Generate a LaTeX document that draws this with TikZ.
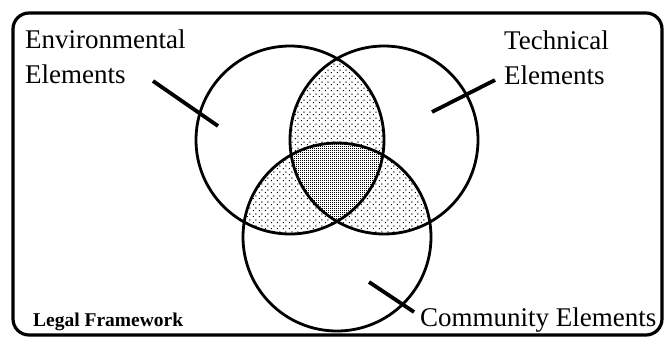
\documentclass[tikz,border=0pt]{standalone}
\usepackage{fontspec}
\setmainfont{Liberation Serif}
\usetikzlibrary{patterns.meta}

\tikzdeclarepattern{
  name=sparsedots, type=uncolored,
  bottom left={(0pt,0pt)}, top right={(6pt,6pt)}, tile size={(6pt,6pt)},
  code={
    \pgfpathrectangle{\pgfpoint{1pt}{1pt}}{\pgfpoint{1.2pt}{1.2pt}}
    \pgfpathrectangle{\pgfpoint{4pt}{4pt}}{\pgfpoint{1.2pt}{1.2pt}}
    \pgfusepath{fill}
  }}
\tikzdeclarepattern{
  name=densedots, type=uncolored,
  bottom left={(0pt,0pt)}, top right={(2pt,2pt)}, tile size={(2pt,2pt)},
  code={
    \pgfpathrectangle{\pgfpoint{0.2pt}{0.2pt}}{\pgfpoint{1.2pt}{1.2pt}}
    \pgfusepath{fill}
  }}

\begin{document}
\begin{tikzpicture}[x=1pt, y=-1pt,
  ring/.style={circle, draw, line width=2.8pt, minimum size=188pt, inner sep=0pt},
  lbl/.style={font=\fontsize{27}{35}\selectfont, align=left, anchor=base west, inner sep=0pt},
  ptr/.style={line width=3.8pt},
  pairfill/.style={pattern=sparsedots},
  triplefill/.style={pattern=densedots}]
\useasboundingbox (0,0) rectangle (665,338);
% frame
\draw[line width=3.2pt, rounded corners=16pt] (13,13) rectangle (662,335);
% overlaps
\begin{scope}
  \clip (290,140) circle[radius=94];
  \fill[pairfill] (384,140) circle[radius=94];
  \fill[pairfill] (337,237) circle[radius=94];
\end{scope}
\begin{scope}
  \clip (384,140) circle[radius=94];
  \fill[pairfill] (337,237) circle[radius=94];
\end{scope}
\begin{scope}
  \clip (290,140) circle[radius=94];
  \clip (384,140) circle[radius=94];
  \fill[white] (337,237) circle[radius=94];
  \fill[triplefill] (337,237) circle[radius=94];
\end{scope}
% circles
\node[ring] (env) at (290,140) {};
\node[ring] (tech) at (384,140) {};
\node[ring] (comm) at (337,237) {};
% labels
\node[lbl] (envtxt) at (25,83) {Environmental\\Elements};
\node[lbl] (techtxt) at (504,84) {Technical\\Elements};
\node[lbl] (commtxt) at (420,326) {Community Elements};
\node[font=\fontsize{19.5}{22}\selectfont\bfseries, anchor=base west, inner sep=0pt] (legal) at (33,326) {Legal Framework};
% pointers
\coordinate (envfrom) at (153,81);
\coordinate (envto) at (218,126);
\coordinate (techfrom) at (495,80);
\coordinate (techto) at (432,112);
\coordinate (commfrom) at (369,282);
\coordinate (commto) at (414,312);
\draw[ptr] (envfrom) -- (envto);
\draw[ptr] (techfrom) -- (techto);
\draw[ptr] (commfrom) -- (commto);
\end{tikzpicture}
\end{document}
